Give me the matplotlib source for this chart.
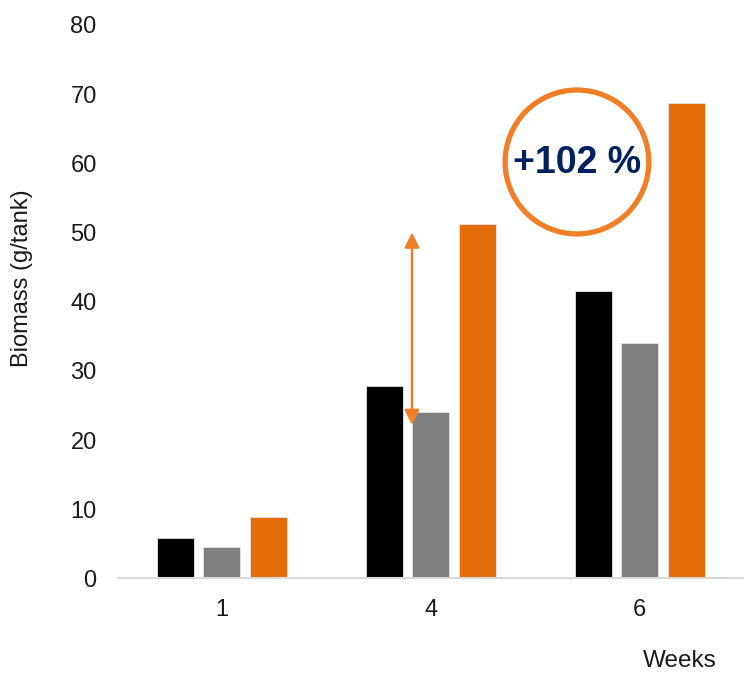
import matplotlib as mpl
mpl.use('Agg')
import matplotlib.pyplot as plt
import matplotlib.patches as mpatches
import numpy as np

plt.rcParams['font.family'] = ['Liberation Sans', 'DejaVu Sans']

# biomass per tank
weeks = ['1', '4', '6']
black_vals = [5.8, 27.8, 41.6]
gray_vals = [4.55, 24.0, 34.0]
orange_vals = [8.9, 51.3, 68.7]
series_colors = ['#000000', '#7f7f7f', '#e36c0a']

# annotation values
arrow_lo, arrow_hi = 22.2, 50.0
gain_text = '+102 %'

fig = plt.figure(figsize=(7.44, 6.75), dpi=100)
ax = fig.add_axes([0.158, 0.143, 0.842, 0.820])

x = np.arange(len(weeks))
w = 0.177
step = 0.223
for i, (vals, c) in enumerate(zip([black_vals, gray_vals, orange_vals], series_colors)):
    ax.bar(x + (i - 1) * step, vals, width=w, color=c, edgecolor='#e6e6e6', linewidth=0.6, zorder=2)

ax.set_xlim(-0.5, 2.5)
ax.set_ylim(0, 80)
ax.set_yticks(np.arange(0, 81, 10))
ax.set_xticks(x)
ax.set_xticklabels(weeks)
ax.tick_params(axis='both', length=0, labelsize=17, colors='#1a1a1a')
ax.tick_params(axis='y', pad=15)
ax.tick_params(axis='x', pad=15)

for s in ['top', 'right', 'left']:
    ax.spines[s].set_visible(False)
ax.spines['bottom'].set_color('#d9d9d9')
ax.spines['bottom'].set_linewidth(1.5)

ax.set_ylabel('Biomass (g/tank)', fontsize=17, color='#1a1a1a')
ax.yaxis.set_label_coords(-0.135, 0.543)
ax.text(0.898, -0.149, 'Weeks', transform=ax.transAxes, fontsize=17.5,
        ha='center', va='center', color='#1a1a1a')

# double arrow between control and treatment at week 4
ax.annotate('', xy=(0.91, arrow_hi), xytext=(0.91, arrow_lo),
            arrowprops=dict(arrowstyle='<|-|>', color='#f07f28', lw=1.8,
                            mutation_scale=22, shrinkA=0, shrinkB=0), zorder=3)

# circle with the gain
circ = mpatches.Ellipse((1.70, 60.2), width=0.688, height=20.8, fill=False,
                        edgecolor='#f07f28', linewidth=3.8, zorder=4)
ax.add_patch(circ)
ax.text(1.70, 60.0, gain_text, fontsize=27, fontweight='bold', color='#002060',
        ha='center', va='center', zorder=5)

fig.savefig('out.png', dpi=100)
